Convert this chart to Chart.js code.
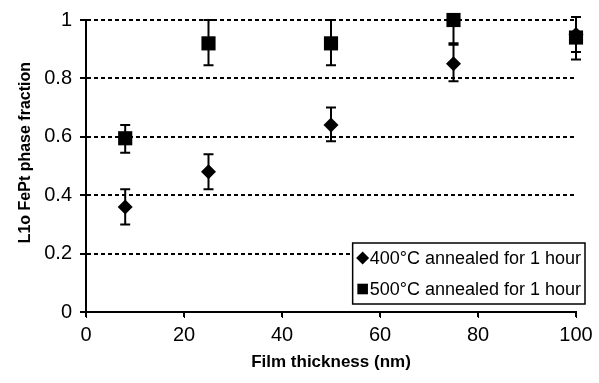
<!DOCTYPE html>
<html>
<head>
<meta charset="utf-8">
<script src="https://cdn.jsdelivr.net/npm/chart.js@4"></script>
<style>
  html, body { margin: 0; padding: 0; background: #fff; }
  #wrap { width: 599px; height: 383px; }
</style>
</head>
<body>
<div id="wrap"><canvas id="chart"></canvas></div>
<script>
// film thickness (nm)
const thickness = [8, 25, 50, 75, 100]

// 400 C anneal
const frac400 = [0.36, 0.48, 0.64, 0.85, 0.95]
const low400 = [0.30, 0.42, 0.585, 0.79, 0.89]
const high400 = [0.42, 0.54, 0.70, 0.92, 1.01]

// 500 C anneal
const frac500 = [0.595, 0.92, 0.92, 1.0, 0.94]
const low500 = [0.545, 0.845, 0.845, 0.915, 0.865]
const high500 = [0.64, 1.0, 1.0, 1.0, 1.01]

const seriesLabels = ['400\u00B0C annealed for 1 hour', '500\u00B0C annealed for 1 hour']

const toPoints = (ys) => thickness.map((x, i) => ({ x: x, y: ys[i] }))

// error bars drawn through the chart scales
const errorBars = {
    id: 'errorBars',
    beforeDatasetsDraw(chart) {
        const { ctx, scales: { x, y } } = chart
        ctx.save()
        ctx.strokeStyle = '#000'
        ctx.lineWidth = 2
        chart.data.datasets.forEach((ds) => {
            ds.data.forEach((p, i) => {
                const px = x.getPixelForValue(p.x)
                const yLo = y.getPixelForValue(ds.errLow[i])
                const yHi = y.getPixelForValue(ds.errHigh[i])
                ctx.beginPath()
                ctx.moveTo(px, yLo); ctx.lineTo(px, yHi)
                ctx.moveTo(px - 5, yLo); ctx.lineTo(px + 5, yLo)
                ctx.moveTo(px - 5, yHi); ctx.lineTo(px + 5, yHi)
                ctx.stroke()
            })
        })
        ctx.restore()
    }
}

// small outward tick marks on both axes
const axisTicks = {
    id: 'axisTicks',
    afterDatasetsDraw(chart) {
        const { ctx, chartArea, scales: { x, y } } = chart
        ctx.save()
        ctx.strokeStyle = '#000'
        ctx.lineWidth = 2
        ctx.beginPath()
        x.ticks.forEach((t) => {
            const px = Math.round(x.getPixelForValue(t.value))
            ctx.moveTo(px, chartArea.bottom)
            ctx.lineTo(px, chartArea.bottom + 5)
        })
        y.ticks.forEach((t) => {
            const py = Math.round(y.getPixelForValue(t.value))
            ctx.moveTo(chartArea.left - 6, py)
            ctx.lineTo(chartArea.left, py)
        })
        ctx.stroke()
        ctx.restore()
    }
}

// boxed legend in the lower right corner
const boxLegend = {
    id: 'boxLegend',
    afterDraw(chart) {
        const { ctx, chartArea } = chart
        ctx.save()
        ctx.font = '18px "Liberation Sans", Arial, sans-serif'
        const textW = Math.max(...seriesLabels.map((t) => ctx.measureText(t).width))
        const w = textW + 21
        const h = 61
        const right = chartArea.right + 9
        const left = right - w
        const top = chartArea.bottom - 69
        ctx.fillStyle = '#fff'
        ctx.fillRect(left, top, w, h)
        ctx.strokeStyle = '#000'
        ctx.lineWidth = 1.5
        ctx.strokeRect(left, top, w, h)
        ctx.textBaseline = 'middle'
        chart.data.datasets.forEach((ds, i) => {
            const cy = top + 15 + i * 31
            ctx.fillStyle = '#000'
            ctx.strokeStyle = '#000'
            Chart.helpers.drawPoint(ctx, { pointStyle: ds.pointStyle, radius: i === 0 ? 6.5 : 7.5, borderWidth: 0 }, left + 10, cy)
            ctx.fillText(seriesLabels[i], left + 17, cy + 1)
        })
        ctx.restore()
    }
}

const tickFont = { family: '"Liberation Sans", Arial, sans-serif', size: 20 }
const fmt = (v) => String(Number(v.toFixed(2)))

const config = {
    type: 'scatter',
    data: {
        datasets: [
            {
                label: seriesLabels[0],
                data: toPoints(frac400),
                errLow: low400,
                errHigh: high400,
                pointStyle: 'rectRot',
                pointRadius: 7.5,
                pointHoverRadius: 7.5,
                backgroundColor: '#000',
                borderColor: '#000',
                borderWidth: 0,
                clip: false,
            },
            {
                label: seriesLabels[1],
                data: toPoints(frac500),
                errLow: low500,
                errHigh: high500,
                pointStyle: 'rect',
                pointRadius: 10,
                pointHoverRadius: 10,
                backgroundColor: '#000',
                borderColor: '#000',
                borderWidth: 0,
                clip: false,
            },
        ],
    },
    options: {
        responsive: true,
        maintainAspectRatio: false,
        animation: false,
        layout: { padding: { top: 13, right: 23, left: 0, bottom: 0 } },
        plugins: {
            legend: { display: false },
            tooltip: { enabled: false },
        },
        scales: {
            x: {
                type: 'linear',
                min: 0,
                max: 100,
                ticks: { stepSize: 20, color: '#000', font: tickFont, padding: 5, callback: fmt },
                grid: { drawOnChartArea: false, drawTicks: true, tickLength: 6, color: '#000' },
                border: { display: true, color: '#000', width: 2 },
                title: {
                    display: true,
                    text: 'Film thickness (nm)',
                    color: '#000',
                    font: { family: '"Liberation Sans", Arial, sans-serif', size: 17, weight: 'bold' },
                    padding: { top: 0, bottom: 10 },
                },
                afterFit(scale) { scale.height = 71 },
            },
            y: {
                min: 0,
                max: 1,
                ticks: { stepSize: 0.2, color: '#000', font: tickFont, padding: 8, callback: fmt },
                grid: { color: '#000', lineWidth: 2, tickLength: 6 },
                border: { display: true, color: '#000', width: 2, dash: [4, 3] },
                title: {
                    display: true,
                    text: '\u00A0\u00A0\u00A0\u00A0\u00A0\u00A0L1o FePt phase fraction',
                    color: '#000',
                    font: { family: '"Liberation Sans", Arial, sans-serif', size: 16, weight: 'bold' },
                    padding: { top: 16, bottom: 0 },
                },
                afterFit(scale) { scale.width = 86 },
            },
        },
    },
    plugins: [errorBars, axisTicks, boxLegend],
}

const ctx = document.getElementById('chart')
window.myChart = new Chart(ctx, config)
</script>
</body>
</html>
